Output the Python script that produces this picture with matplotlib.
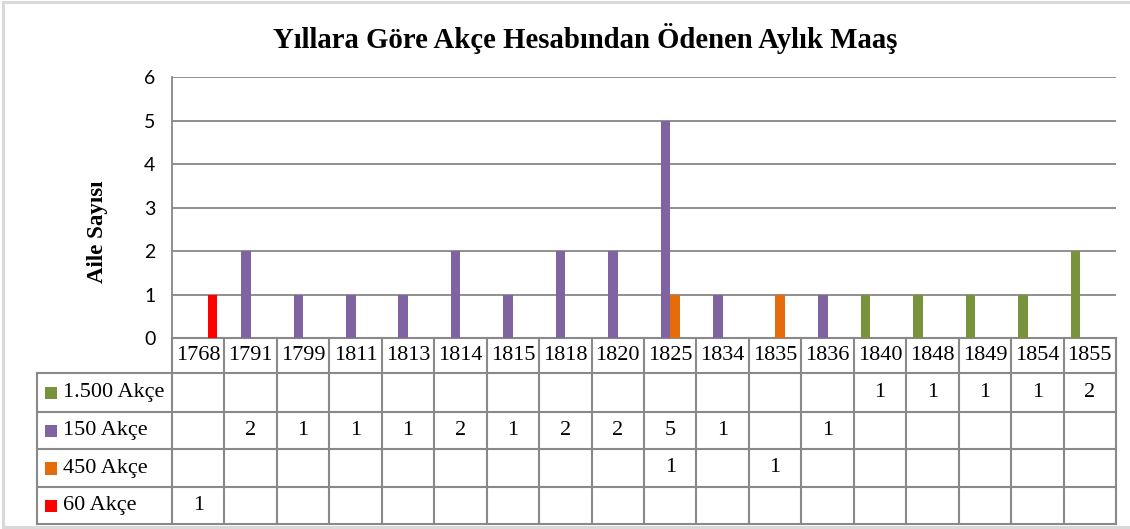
import numpy as np
import matplotlib
matplotlib.use("Agg")
import matplotlib.pyplot as plt
from matplotlib.transforms import blended_transform_factory
from matplotlib.patches import Rectangle
from matplotlib.lines import Line2D

title = "Yıllara Göre Akçe Hesabından Ödenen Aylık Maaş"
ylabel = "Aile Sayısı"
years = ["1768", "1791", "1799", "1811", "1813", "1814", "1815", "1818", "1820",
         "1825", "1834", "1835", "1836", "1840", "1848", "1849", "1854", "1855"]
nan = np.nan
akce_1500 = [nan, nan, nan, nan, nan, nan, nan, nan, nan, nan, nan, nan, nan, 1, 1, 1, 1, 2]
akce_150 = [nan, 2, 1, 1, 1, 2, 1, 2, 2, 5, 1, nan, 1, nan, nan, nan, nan, nan]
akce_450 = [nan, nan, nan, nan, nan, nan, nan, nan, nan, 1, nan, 1, nan, nan, nan, nan, nan, nan]
akce_60 = [1, nan, nan, nan, nan, nan, nan, nan, nan, nan, nan, nan, nan, nan, nan, nan, nan, nan]
series_names = ["1.500 Akçe", "150 Akçe", "450 Akçe", "60 Akçe"]
series_vals = [akce_1500, akce_150, akce_450, akce_60]
colors = ["#77933C", "#8064A2", "#E46C0A", "#FF0000"]
yticks = [0, 1, 2, 3, 4, 5, 6]

W, H = 1130, 529
fig = plt.figure(figsize=(W / 100, H / 100), dpi=100)
fig.patch.set_facecolor("white")

# outer chart border (top, left, bottom)
bc = "#D9D9D9"
for xs, ys in [([2.5, W + 5], [2, 2]), ([2.5, 2.5], [2, 527]), ([2.5, W + 5], [527, 527])]:
    fig.add_artist(Line2D([v / W for v in xs], [1 - v / H for v in ys],
                          transform=fig.transFigure, color=bc, lw=2.2))

px_l, px_r, px_t, px_b = 172, 1116, 77, 338
ax = fig.add_axes([px_l / W, 1 - px_b / H, (px_r - px_l) / W, (px_b - px_t) / H])
n = len(years)
x = np.arange(n)
bw = 1 / (4 + 1.5)
for i, (vals, c) in enumerate(zip(series_vals, colors)):
    ax.bar(x + (i - 1.5) * bw, np.nan_to_num(vals), width=bw, color=c, zorder=3, lw=0)

ax.set_xlim(-0.5, n - 0.5)
ax.set_ylim(0, 6)
ax.set_yticks(yticks)
ax.set_yticklabels([str(t) for t in yticks], family="Lato", fontsize=14, color="#000000")
ax.tick_params(axis="y", length=0, pad=12)
ax.tick_params(axis="x", length=0, labelbottom=False)
ax.grid(axis="y", color="#878787", lw=1.3, zorder=0)
for s in ["top", "right", "bottom"]:
    ax.spines[s].set_visible(False)
ax.spines["left"].set_color("#878787")
ax.spines["left"].set_linewidth(1.3)

fig.text(98 / W, 1 - 232 / H, ylabel, rotation=90, ha="center", va="center",
         family="Liberation Serif", fontweight="bold", fontsize=16.5)

fig.text(585 / W, 1 - 38 / H, title, ha="center", va="center",
         family="Liberation Serif", fontweight="bold", fontsize=20.7)

# data table
tr = blended_transform_factory(ax.transData, ax.transAxes)
row_px = [338, 373, 412, 449, 487, 524]
row_y = [(px_b - r) / (px_b - px_t) for r in row_px]
cat_w = (px_r - px_l) / n
xleft = -0.5 + (37 - px_l) / cat_w
xr = n - 0.5
lc = "#898989"
lw = 1.5
kw = dict(transform=tr, clip_on=False, color=lc, lw=lw, solid_capstyle="projecting")
ax.plot([-0.5, xr], [row_y[0], row_y[0]], **kw)
for ry in row_y[1:]:
    ax.plot([xleft, xr], [ry, ry], **kw)
for k in range(n + 1):
    ax.plot([k - 0.5, k - 0.5], [row_y[0], row_y[-1]], **kw)
ax.plot([xleft, xleft], [row_y[1], row_y[-1]], **kw)

tfont = dict(family="Liberation Serif", fontsize=16, color="#000000")
for k, yr in enumerate(years):
    ax.text(k, (row_y[0] + row_y[1]) / 2, yr, transform=tr, ha="center", va="center", **tfont)
for r, (name, vals, c) in enumerate(zip(series_names, series_vals, colors)):
    yc = (row_y[r + 1] + row_y[r + 2]) / 2
    for k, v in enumerate(vals):
        if not np.isnan(v):
            ax.text(k, yc, str(int(v)), transform=tr, ha="center", va="center", **tfont)
    ax.add_patch(Rectangle((xleft + (45 - 37) / cat_w, yc - 6.5 / 261), 12.5 / cat_w, 12.5 / 261,
                           transform=tr, clip_on=False, color=c, lw=0))
    ax.text(xleft + (63 - 37) / cat_w, yc, name, transform=tr, ha="left", va="center", **tfont)

fig.savefig("out.png", dpi=100, facecolor="white")
